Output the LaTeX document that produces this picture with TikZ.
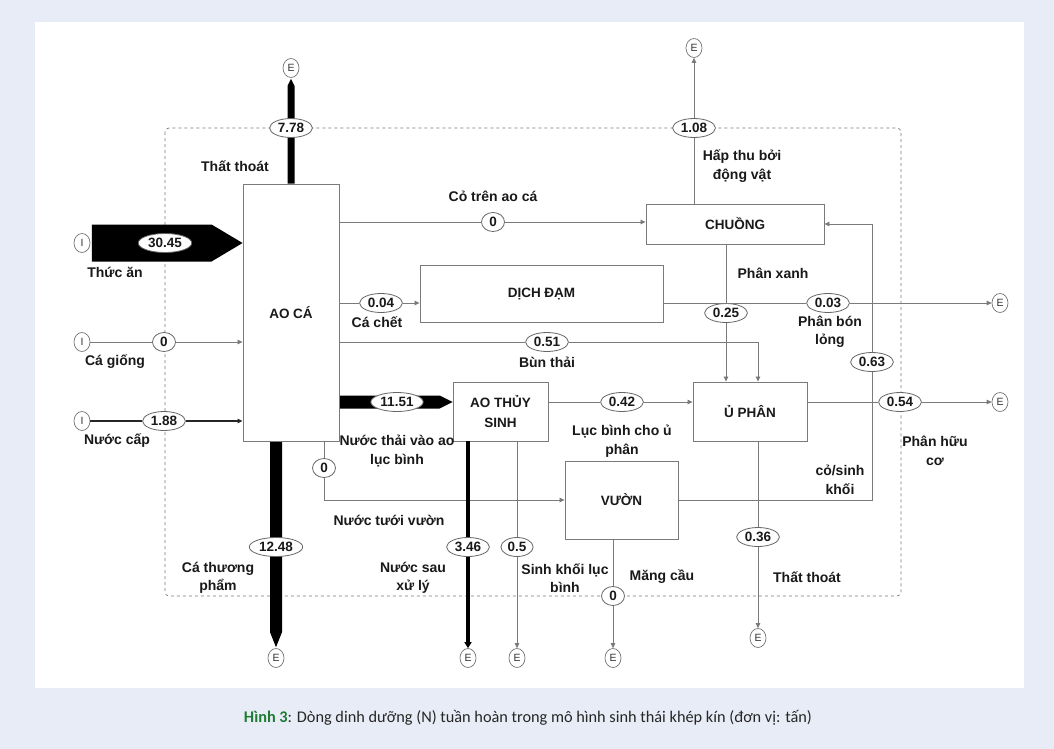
\documentclass[tikz,border=0pt]{standalone}
\usepackage{fontspec}
\setmainfont{Liberation Sans}
\newfontfamily\capfont{Carlito}
\usetikzlibrary{calc,arrows.meta,shapes.geometric,backgrounds}
\definecolor{bgblue}{HTML}{E8ECF6}
\definecolor{lg}{HTML}{7A7A7A}
\definecolor{hinhgreen}{HTML}{1E7B34}
\tikzset{
  box/.style={draw=lg,line width=0.9pt,fill=white,align=center,inner sep=0pt,font=\fontsize{13.5}{19.5}\selectfont\bfseries,text=black!90},
  val/.style={ellipse,draw=black!60,line width=0.8pt,fill=white,inner xsep=2pt,inner ysep=0.5pt,minimum width=23pt,minimum height=19pt,font=\fontsize{13.5}{14}\selectfont\bfseries,text=black!90},
  src/.style={ellipse,draw=black!55,line width=0.7pt,fill=white,inner sep=0pt,minimum width=16pt,minimum height=19pt,font=\fontsize{10.5}{11}\selectfont,text=black!80},
  lab/.style={align=center,inner sep=0pt,font=\fontsize{14}{18.5}\selectfont\bfseries,text=black!90},
  flow/.style={draw=lg,line width=0.8pt},
  fl/.style={flow,-{Triangle[length=5pt,width=4.5pt]}},
}
\begin{document}
\begin{tikzpicture}[x=1pt,y=-1pt,line cap=butt]
\useasboundingbox (0,0) rectangle (1054,749);
% compartments
\node[box,minimum width=96pt,minimum height=257pt] (aoca) at (291,312.5) {AO CÁ};
\node[box,minimum width=178pt,minimum height=40pt] (chuong) at (735,224) {CHUỒNG};
\node[box,minimum width=243pt,minimum height=57pt] (dichdam) at (541.5,293.5) {DỊCH ĐẠM};
\node[box,minimum width=95pt,minimum height=59pt] (aots) at (500.5,411.5) {AO THỦY\\SINH};
\node[box,minimum width=114pt,minimum height=59pt] (uphan) at (750,411.5) {Ủ PHÂN};
\node[box,minimum width=113pt,minimum height=78pt] (vuon) at (621.5,500) {VƯỜN};
% inputs and exits
\node[src] (i1) at (82,243) {I};
\node[src] (i2) at (82,342) {I};
\node[src] (i3) at (82,421) {I};
\node[src] (et1) at (291,68) {E};
\node[src] (et2) at (694,48) {E};
\node[src] (er1) at (1000,303) {E};
\node[src] (er2) at (1000,402) {E};
\node[src] (eb1) at (276,658) {E};
\node[src] (eb2) at (468,658) {E};
\node[src] (eb3) at (517,658) {E};
\node[src] (eb4) at (613,658) {E};
\node[src] (eb5) at (758,638) {E};
% flow values
\node[val] (v3045) at (165,243) {30.45};
\node[val] (v0a) at (164,342) {0};
\node[val] (v188) at (164,421) {1.88};
\node[val] (v778) at (291,128) {7.78};
\node[val] (v108) at (694,128) {1.08};
\node[val] (v0b) at (493,222) {0};
\node[val] (v004) at (381,303) {0.04};
\node[val] (v051) at (547,342) {0.51};
\node[val] (v025) at (726,313) {0.25};
\node[val] (v003) at (828,303) {0.03};
\node[val] (v1151) at (397,402) {11.51};
\node[val] (v042) at (622,402) {0.42};
\node[val] (v054) at (900,402) {0.54};
\node[val] (v063) at (872,362) {0.63};
\node[val] (v0c) at (324,468) {0};
\node[val] (v1248) at (276,547) {12.48};
\node[val] (v346) at (468,547) {3.46};
\node[val] (v05) at (517,547) {0.5};
\node[val] (v0d) at (613,596) {0};
\node[val] (v036) at (758,537) {0.36};
% panel, system boundary and heavy flows
\begin{scope}[on background layer]
  \fill[bgblue] (0,0) rectangle (1054,749);
  \fill[white] (35,22) rectangle (1024,688);
  \draw[lg,dashed,line width=0.7pt,rounded corners=4pt] (165,128) rectangle (901,596);
  \coordinate (ta) at (aoca.west |- i1);
  \fill ($(i1.east)+(1.5,-18.5)$) -- ($(ta)+(-31,-18.5)$) -- (ta) -- ($(ta)+(-31,18.5)$) -- ($(i1.east)+(1.5,18.5)$) -- cycle;
  \coordinate (tb) at (aoca.north -| et1);
  \fill ($(tb)+(-3.5,0)$) -- ($(et1.south)+(-3.5,8)$) -- ($(et1.south)+(0,1)$) -- ($(et1.south)+(3.5,8)$) -- ($(tb)+(3.5,0)$) -- cycle;
  \coordinate (tc) at (aoca.south -| eb1);
  \fill ($(tc)+(-6,0)$) -- ($(eb1.north)+(-6,-16)$) -- ($(eb1.north)+(0,-1)$) -- ($(eb1.north)+(6,-16)$) -- ($(tc)+(6,0)$) -- cycle;
  \coordinate (td) at (aoca.east |- v1151);
  \coordinate (te) at (aots.west |- v1151);
  \fill ($(td)+(0,-6.5)$) -- ($(te)+(-13,-6.5)$) -- (te) -- ($(te)+(-13,6.5)$) -- ($(td)+(0,6.5)$) -- cycle;
\end{scope}
% light flows
\draw[flow] (i2) -- (v0a);
\draw[fl] (v0a) -- (aoca.west |- i2);
\draw[line width=1.2pt,black!85] (i3) -- (v188);
\draw[line width=1.2pt,black!85,-{Triangle[length=5pt,width=4.5pt]}] (v188) -- (aoca.west |- i3);
\draw[flow] (aoca.east |- v0b) -- (v0b);
\draw[fl] (v0b) -- (chuong.west |- v0b);
\draw[flow] (chuong.north -| v108) -- (v108);
\draw[fl] (v108) -- (et2);
\draw[flow] (aoca.east |- v004) -- (v004);
\draw[fl] (v004) -- (dichdam.west |- v004);
\draw[flow] (aoca.east |- v051) -- (v051);
\draw[fl] (v051) -- (v051 -| eb5) -- (uphan.north -| eb5);
\draw[flow] (chuong.south -| v025) -- (v025);
\draw[fl] (v025) -- (uphan.north -| v025);
\draw[flow] (dichdam.east |- v003) -- (v003);
\draw[fl] (v003) -- (er1);
\draw[flow] (aots.east |- v042) -- (v042);
\draw[fl] (v042) -- (uphan.west |- v042);
\draw[flow] (uphan.east |- v054) -- (v054);
\draw[fl] (v054) -- (er2);
\draw[flow] (uphan.south -| v036) -- (v036);
\draw[fl] (v036) -- (eb5);
\draw[flow] (vuon.east) -- (vuon.east -| v063) -- (v063);
\draw[fl] (v063) -- (v063 |- chuong.east) -- (chuong.east);
\draw[flow] (aoca.south -| v0c) -- (v0c);
\draw[fl] (v0c) -- (v0c |- vuon.west) -- (vuon.west);
\draw[line width=3.5pt] (aots.south -| v346) -- (v346);
\draw[line width=3.5pt,-{Triangle[length=6pt,width=7pt]}] (v346) -- (eb2);
\draw[flow] (aots.south -| v05) -- (v05);
\draw[fl] (v05) -- (eb3);
\draw[flow] (vuon.south -| v0d) -- (v0d);
\draw[fl] (v0d) -- (eb4);
% labels
\node[lab] (lthat1) at (235,166) {Thất thoát};
\node[lab] (lthucan) at (115,272) {Thức ăn};
\node[lab] (lcagiong) at (115,362) {Cá giống};
\node[lab] (lnuoccap) at (117,441) {Nước cấp};
\node[lab] (lcotren) at (493,196) {Cỏ trên ao cá};
\node[lab] (lhapthu) at (742,166) {Hấp thu bởi\\động vật};
\node[lab] (lcachet) at (377,322) {Cá chết};
\node[lab] (lphanxanh) at (773,273) {Phân xanh};
\node[lab] (lphanbon) at (830,332) {Phân bón\\lỏng};
\node[lab] (lbunthai) at (547,362) {Bùn thải};
\node[lab] (lnuocthai) at (397,451) {Nước thải vào ao\\lục bình};
\node[lab] (llucbinh) at (622,441) {Lục bình cho ủ\\phân};
\node[lab] (lphanhuu) at (935,451) {Phân hữu\\cơ};
\node[lab] (lcosinh) at (840,480) {cỏ/sinh\\khối};
\node[lab] (lnuoctuoi) at (389,520) {Nước tưới vườn};
\node[lab] (lcathuong) at (218,578) {Cá thương\\phẩm};
\node[lab] (lnuocsau) at (413,578) {Nước sau\\xử lý};
\node[lab] (lsinhkhoi) at (565,578) {Sinh khối lục\\bình};
\node[lab] (lmangcau) at (662,577) {Măng cầu};
\node[lab] (lthat2) at (807,577) {Thất thoát};
% caption
\node[font=\capfont\fontsize{16.3}{19}\selectfont,text=black!85] (caption) at (528,718)
  {\textcolor{hinhgreen}{\bfseries Hình 3}: Dòng dinh dưỡng (N) tuần hoàn trong mô hình sinh thái khép kín (đơn vị: tấn)};
\end{tikzpicture}
\end{document}
